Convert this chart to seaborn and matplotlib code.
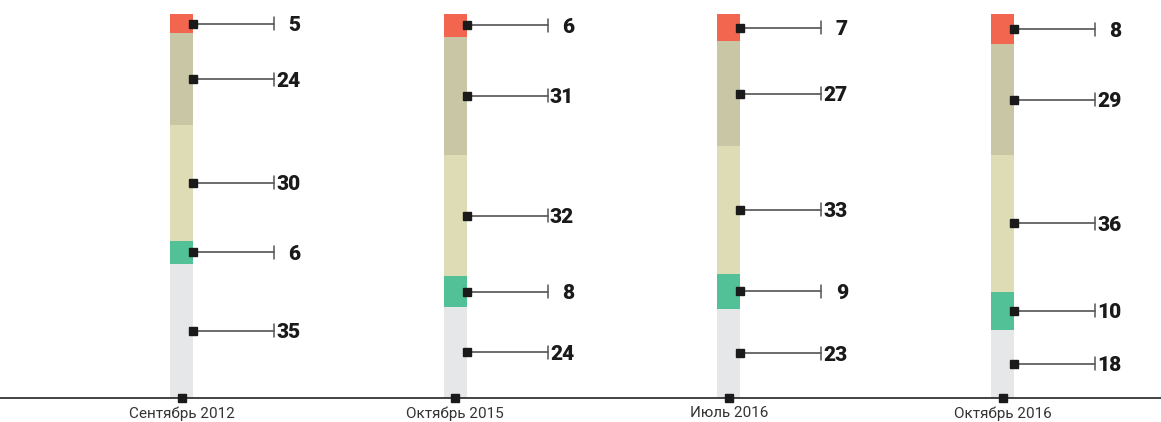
import numpy as np
import pandas as pd
import matplotlib
matplotlib.use("Agg")
import matplotlib.pyplot as plt
import seaborn as sns

# data (bottom -> top)
periods = ["Сентябрь 2012", "Октябрь 2015", "Июль 2016", "Октябрь 2016"]
seg_gray = [35, 24, 23, 18]
seg_green = [6, 8, 9, 10]
seg_yellow = [30, 32, 33, 36]
seg_khaki = [24, 31, 27, 29]
seg_red = [5, 6, 7, 8]

segments = [seg_gray, seg_green, seg_yellow, seg_khaki, seg_red]
colors = ["#e6e7e9", "#52c197", "#dedcb5", "#c9c6a5", "#f26650"]

sns.set_style("white")
plt.rcParams['font.family'] = ['Roboto', 'DejaVu Sans']

vals = np.array(segments, dtype=float)
totals = vals.sum(axis=0)
pct = vals / totals * 100
cum = np.cumsum(pct, axis=0)

fig = plt.figure(figsize=(11.61, 4.22), dpi=100)
ax = fig.add_axes([0, 24 / 422, 1, 384 / 422])

spacing = 273.67
bw = 23 / spacing

# draw stacked bars: tallest (cumulative) first, then lower ones on top
for i in range(len(segments) - 1, -1, -1):
    df = pd.DataFrame({"period": periods, "h": cum[i]})
    sns.barplot(data=df, x="period", y="h", color=colors[i], width=bw,
                saturation=1, linewidth=0, edgecolor="none", ax=ax, zorder=2)

line_end = 92.5 / spacing
text_x = 119 / spacing
for j in range(len(periods)):
    bottom = 0
    for i in range(len(segments)):
        mid = bottom + pct[i, j] / 2
        bottom += pct[i, j]
        x0 = j + bw / 2
        ax.plot([x0, j + line_end], [mid, mid], color="#444444", lw=1.1,
                zorder=3, clip_on=False)
        ax.plot([j + line_end, j + line_end], [mid - 1.7, mid + 1.7],
                color="#555555", lw=1.1, zorder=3, clip_on=False)
        ax.plot(x0, mid, marker="s", ms=5.5, color="#1a1a1a", zorder=4,
                clip_on=False)
        ax.text(j + text_x, mid, str(segments[i][j]), ha="right",
                va="center_baseline", fontsize=15, fontweight="heavy",
                color="#1a1a1a")
    ax.plot(j, 0, marker="s", ms=5.5, color="#1a1a1a", zorder=5, clip_on=False)

ax.set_xlim(-181.5 / spacing, (1161 - 181.5) / spacing)
ax.set_ylim(0, 100)
ax.set_xlabel("")
ax.set_ylabel("")
ax.set_yticks([])
ax.tick_params(axis="x", length=0, pad=6, labelsize=11, labelcolor="#333333")
for s in ["top", "right", "left"]:
    ax.spines[s].set_visible(False)
ax.spines["bottom"].set_color("#222222")
ax.spines["bottom"].set_linewidth(1.2)
ax.spines["bottom"].set_zorder(4)

fig.savefig("out.png", dpi=100)
